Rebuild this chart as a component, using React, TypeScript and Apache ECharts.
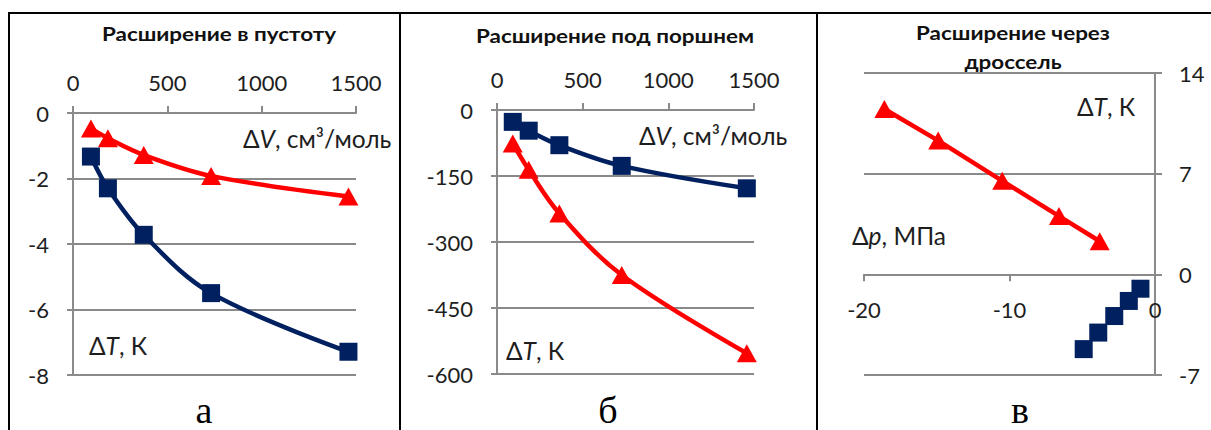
import React, { useEffect, useRef } from "react";
import * as echarts from "echarts";

// Panel а: expansion into vacuum
const volumeVacuum = [95, 185, 375, 732, 1460];
const vacuumRed = [-0.47, -0.77, -1.28, -1.92, -2.55];
const vacuumBlue = [-1.33, -2.3, -3.72, -5.5, -7.29];
// Panel б: expansion under piston
const volumePiston = [92, 185, 364, 728, 1458];
const pistonBlue = [-27, -47, -80, -127, -178];
const pistonRed = [-76, -136, -235, -375, -553];
// Panel в: throttling
const throttleRedP = [-18.6, -14.9, -10.5, -6.6, -3.8];
const throttleRedT = [11.5, 9.3, 6.5, 4.05, 2.3];
const throttleBlueP = [-1.0, -1.8, -2.8, -3.9, -4.9];
const throttleBlueT = [-1.0, -1.85, -2.9, -4.05, -5.2];

const titles = ["Расширение в пустоту", "Расширение под поршнем", "Расширение через\nдроссель"];
const panelLetters = ["а", "б", "в"];

const pairs = (xs: number[], ys: number[]) => xs.map((x, i) => [x, ys[i]]);

const SANS = "Lato";
const GRID = "#8a8a8a";
const TXT = "#1e1e1e";
const RED = "#ff0000";
const BLUE = "#002060";
const LW = 4.5;

const GRID_C = { left: 864, top: 73, width: 291, height: 302 };
const C_YMIN = -7;
const C_YMAX = 14;

const fmt = (v: number) => String(v);

function axisCommon(extra: any, labelMargin: number) {
  return {
    type: "value",
    axisLine: { show: true, onZero: false, lineStyle: { color: GRID, width: 2 } },
    axisTick: { show: true, length: 7, lineStyle: { color: GRID, width: 2 } },
    splitLine: { show: false },
    axisLabel: { fontFamily: SANS, fontSize: 22, color: TXT, margin: labelMargin, formatter: fmt },
    ...extra,
  };
}

function nameText(x: number, y: number, sym: string, rest: string) {
  return {
    type: "text",
    x,
    y,
    z: 20,
    style: {
      text: `{n|Δ}{i|${sym}}{n|${rest}}`,
      verticalAlign: "middle",
      align: "left",
      rich: {
        n: { fontFamily: SANS, fontSize: 24.5, fill: TXT },
        i: { fontFamily: SANS, fontSize: 24.5, fontStyle: "italic", fill: TXT },
      },
    },
  };
}

function titleText(x: number, y: number, text: string) {
  return {
    type: "text",
    x,
    y,
    z: 20,
    scaleX: 1.18,
    style: {
      text,
      align: "center",
      verticalAlign: "middle",
      fontFamily: SANS,
      fontWeight: "bold",
      fontSize: 19,
      lineHeight: 29,
      fill: "#111",
    },
  };
}

function letterText(x: number, text: string) {
  return {
    type: "text",
    x,
    y: 429,
    z: 20,
    style: { text, align: "center", verticalAlign: "bottom", fontFamily: "Liberation Serif", fontSize: 38, fill: "#000" },
  };
}

export default function App() {
  const ref = useRef<HTMLDivElement>(null);
  useEffect(() => {
    if (!ref.current) return;
    const chart = echarts.init(ref.current, undefined, { renderer: "svg" });
    const split = { show: true, lineStyle: { color: GRID, width: 2 } };
    const tick6 = { show: true, length: 6, lineStyle: { color: GRID, width: 2 } };
    // x axis of panel в crosses the y axis at 0
    const cOffset = -(GRID_C.height * (0 - C_YMIN)) / (C_YMAX - C_YMIN);
    const option: any = {
      animation: false,
      backgroundColor: "#ffffff",
      grid: [
        { left: 73, top: 113, width: 283, height: 262 },
        { left: 497, top: 110, width: 257, height: 264 },
        GRID_C,
      ],
      xAxis: [
        axisCommon({ gridIndex: 0, position: "top", min: 0, max: 1500, interval: 500 }, 20),
        axisCommon({ gridIndex: 1, position: "top", min: 0, max: 1500, interval: 500 }, 20),
        axisCommon({ gridIndex: 2, position: "bottom", offset: cOffset, min: -20, max: 0, interval: 10 }, 24),
      ],
      yAxis: [
        axisCommon({ gridIndex: 0, min: -8, max: 0, interval: 2, splitLine: split, axisTick: tick6 }, 24),
        axisCommon({ gridIndex: 1, min: -600, max: 0, interval: 150, splitLine: split, axisTick: tick6 }, 24),
        axisCommon({ gridIndex: 2, position: "right", min: C_YMIN, max: C_YMAX, interval: 7, splitLine: split }, 24),
      ],
      series: [
        {
          type: "line", xAxisIndex: 0, yAxisIndex: 0, smooth: 0.35,
          data: pairs(volumeVacuum, vacuumRed), symbol: "triangle", symbolSize: [20, 18],
          lineStyle: { color: RED, width: LW }, itemStyle: { color: RED }, z: 3,
        },
        {
          type: "line", xAxisIndex: 0, yAxisIndex: 0, smooth: 0.35,
          data: pairs(volumeVacuum, vacuumBlue), symbol: "rect", symbolSize: 18,
          lineStyle: { color: BLUE, width: LW }, itemStyle: { color: BLUE }, z: 4,
        },
        {
          type: "line", xAxisIndex: 1, yAxisIndex: 1, smooth: 0.35,
          data: pairs(volumePiston, pistonBlue), symbol: "rect", symbolSize: 18,
          lineStyle: { color: BLUE, width: LW }, itemStyle: { color: BLUE }, z: 3,
        },
        {
          type: "line", xAxisIndex: 1, yAxisIndex: 1, smooth: 0.35,
          data: pairs(volumePiston, pistonRed), symbol: "triangle", symbolSize: [20, 18],
          lineStyle: { color: RED, width: LW }, itemStyle: { color: RED }, z: 4,
        },
        {
          type: "line", xAxisIndex: 2, yAxisIndex: 2,
          data: pairs(throttleRedP, throttleRedT), symbol: "triangle", symbolSize: [20, 18],
          lineStyle: { color: RED, width: LW }, itemStyle: { color: RED }, z: 3,
        },
        {
          type: "scatter", xAxisIndex: 2, yAxisIndex: 2,
          data: pairs(throttleBlueP, throttleBlueT), symbol: "rect", symbolSize: 18,
          itemStyle: { color: BLUE, opacity: 1 }, z: 4,
        },
      ],
      graphic: [
        // table borders
        { type: "line", shape: { x1: 8, y1: 13, x2: 1211, y2: 13 }, style: { stroke: "#000", lineWidth: 2 }, z: 30 },
        { type: "line", shape: { x1: 9, y1: 12, x2: 9, y2: 430 }, style: { stroke: "#000", lineWidth: 2 }, z: 30 },
        { type: "line", shape: { x1: 400, y1: 12, x2: 400, y2: 430 }, style: { stroke: "#000", lineWidth: 2 }, z: 30 },
        { type: "line", shape: { x1: 817, y1: 12, x2: 817, y2: 430 }, style: { stroke: "#000", lineWidth: 2 }, z: 30 },
        // titles
        titleText(219, 33, titles[0]),
        titleText(615, 35, titles[1]),
        titleText(1013, 47, titles[2]),
        // axis names
        nameText(243, 138, "V", ", см³/моль"),
        nameText(89, 345, "T", ", К"),
        nameText(639, 135, "V", ", см³/моль"),
        nameText(506, 350, "T", ", К"),
        nameText(1077, 106, "T", ", К"),
        nameText(852, 235, "p", ", МПа"),
        // panel letters
        letterText(204, panelLetters[0]),
        letterText(608, panelLetters[1]),
        letterText(1020, panelLetters[2]),
      ],
    };
    chart.setOption(option);
    return () => chart.dispose();
  }, []);
  return (
    <div
      ref={ref}
      style={{ position: "fixed", left: 0, top: 0, width: 1211, height: 430, background: "#fff" }}
    />
  );
}
